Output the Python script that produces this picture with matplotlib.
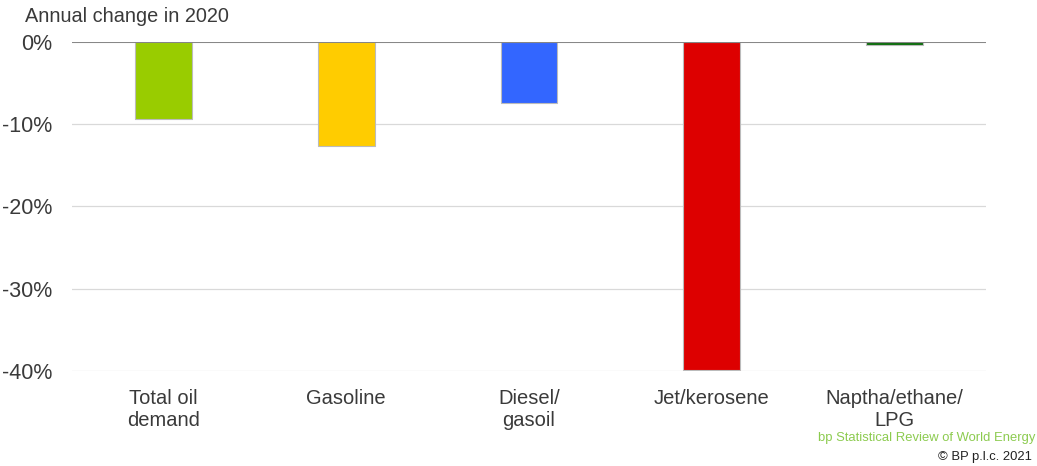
import matplotlib.pyplot as plt
from matplotlib.ticker import FuncFormatter

plt.rcParams['font.family'] = ['Liberation Sans', 'DejaVu Sans']

categories = ["Total oil\ndemand", "Gasoline", "Diesel/\ngasoil", "Jet/kerosene", "Naptha/ethane/\nLPG"]
change_pct = [-9.4, -12.6, -7.4, -39.9, -0.4]
bar_colors = ["#99CC00", "#FFCC00", "#3366FF", "#DD0000", "#0A6B0A"]
y_ticks = [0, -10, -20, -30, -40]

fig = plt.figure(figsize=(10.37, 4.66), dpi=100)
ax = fig.add_axes([72 / 1037, 95 / 466, 914 / 1037, 329 / 466])

x = range(len(categories))
ax.bar(x, change_pct, width=0.31, color=bar_colors, edgecolor="#BBBBBB",
       linewidth=0.8, zorder=3)

ax.set_xlim(-0.5, len(categories) - 0.5)
ax.set_ylim(-40, 0)
ax.set_yticks(y_ticks)
ax.yaxis.set_major_formatter(FuncFormatter(lambda v, p: f"{v:.0f}%"))
ax.grid(axis="y", color="#D9D9D9", linewidth=0.9, zorder=0)
ax.axhline(0, color="#808080", linewidth=1.3, zorder=4)

for s in ax.spines.values():
    s.set_visible(False)
ax.tick_params(axis="y", length=0, pad=14, labelsize=15.5, labelcolor="#3A3A3A")
ax.set_xticks(list(x))
ax.set_xticklabels(categories, fontsize=14.5, color="#3A3A3A", linespacing=1.2)
ax.tick_params(axis="x", length=0, pad=13)

fig.text(25 / 1037, 1 - 16 / 466, "Annual change in 2020", fontsize=14.3,
         color="#3A3A3A", va="center", ha="left")
fig.text(1035 / 1037, 1 - 438 / 466, "bp Statistical Review of World Energy",
         fontsize=9.4, color="#8CCB4F", ha="right", va="center")
fig.text(1032 / 1037, 1 - 457 / 466, "\u00a9 BP p.l.c. 2021", fontsize=9.4,
         color="#222222", ha="right", va="center")

fig.savefig("out.png", dpi=100)
